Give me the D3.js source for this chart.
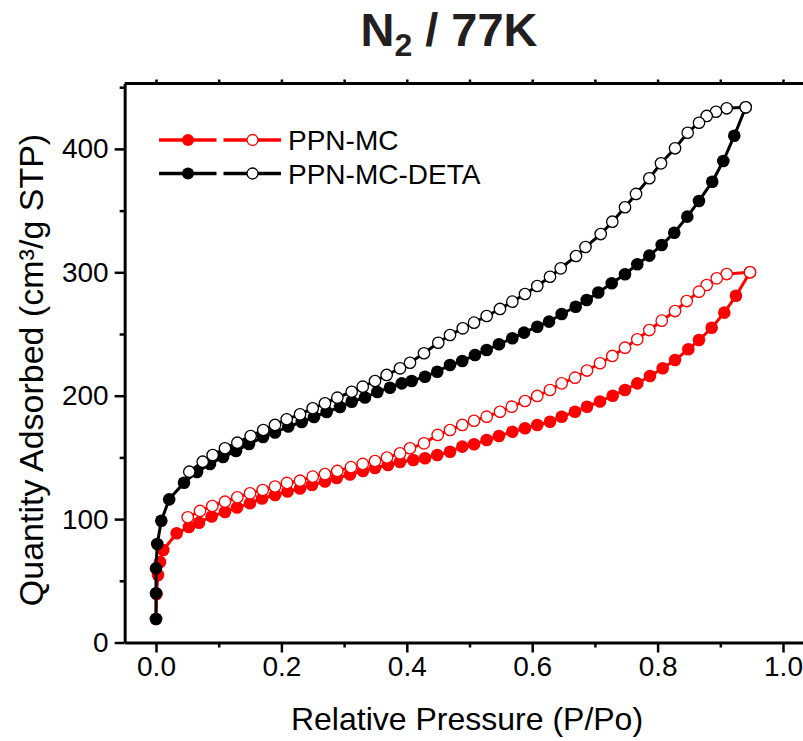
<!DOCTYPE html>
<html><head><meta charset="utf-8">
<script src="https://cdn.jsdelivr.net/npm/d3@7"></script>
<style>html,body{margin:0;padding:0;background:#fff;}svg{display:block;font-family:"Liberation Sans",Arial,sans-serif;}</style>
</head><body>
<svg id="chart" width="803" height="741"></svg>
<script>
// ---------- data ----------
const seriesNames = ["PPN-MC", "PPN-MC-DETA"];
const xTicks = [0, 0.2, 0.4, 0.6, 0.8, 1.0];
const xMinor = [0.1, 0.3, 0.5, 0.7, 0.9];
const yTicks = [0, 100, 200, 300, 400];
const yMinor = [50, 150, 250, 350, 450];

// PPN-MC adsorption (filled)
const mcAdsP = [0,0.0008,0.0032,0.0064,0.0116,0.033,0.0526,0.0686,0.0888,0.11,0.1292,0.1499,0.1691,0.1898,0.2097,0.2297,0.2488,0.2695,0.2882,0.3094,0.3301,0.3493,0.37,0.3892,0.4104,0.429,0.4486,0.4689,0.4885,0.5072,0.5274,0.547,0.5683,0.5885,0.6081,0.6284,0.647,0.6683,0.6874,0.7081,0.7284,0.748,0.7676,0.7879,0.8081,0.8278,0.849,0.866,0.8863,0.9064,0.925,0.9474];
const mcAdsQ = [19.0,39.3,54.7,65.2,75.0,88.5,93.6,97.1,102.1,105.8,109.4,112.8,116.7,119.5,122.4,124.8,127.6,130.5,133.3,136.1,139.0,141.4,143.8,146.3,147.9,149.3,151.9,154.6,158.7,160.6,164.1,167.3,170.8,173.6,176.3,178.9,183.0,187.0,191.1,195.3,200.0,204.6,210.0,216.0,222.2,228.9,237.6,245.1,255.1,267.3,281.0,300.0];
// PPN-MC desorption (open)
const mcDesP = [0.9474,0.9102,0.8943,0.8783,0.866,0.8464,0.8278,0.8066,0.7868,0.7676,0.748,0.7278,0.7081,0.6874,0.6683,0.647,0.6284,0.6081,0.5885,0.5673,0.5486,0.5274,0.5072,0.4885,0.4689,0.4493,0.4274,0.4051,0.3892,0.3684,0.3493,0.3297,0.311,0.2892,0.2695,0.2499,0.2297,0.2089,0.1898,0.1702,0.1499,0.1297,0.11,0.0898,0.0702,0.0506];
const mcDesQ = [300.0,298.6,295.1,289.7,284.3,276.7,268.6,260.8,253.2,245.7,238.9,232.2,226.3,220.4,214.6,210.0,204.6,199.8,195.7,191.1,187.0,183.0,179.7,176.3,172.2,168.2,161.4,157.4,153.3,149.9,147.1,144.7,142.1,139.0,136.5,134.4,131.1,129.3,126.4,123.6,120.9,117.7,114.1,110.6,106.6,101.5];

// PPN-MC-DETA adsorption (filled)
const detaAdsP = [0,0,0,0.002,0.0085,0.021,0.0447,0.0654,0.0861,0.1069,0.1276,0.1483,0.1707,0.1898,0.211,0.2324,0.252,0.2722,0.2935,0.3121,0.3333,0.353,0.3732,0.3919,0.4078,0.429,0.4486,0.4689,0.4885,0.5088,0.5274,0.547,0.5683,0.5869,0.6081,0.6268,0.647,0.6694,0.6869,0.7054,0.7268,0.748,0.7676,0.7868,0.8065,0.8266,0.8474,0.866,0.8872,0.9048,0.9223,0.9405];
const detaAdsQ = [19.0,39.9,60.1,79.8,98.7,116.0,129.5,138.2,144.7,150.3,155.2,160.9,166.5,170.2,175.0,178.7,182.7,186.8,190.8,195.1,198.5,203.0,206.5,210.0,211.9,215.4,219.4,224.9,228.1,233.0,237.0,241.7,246.5,251.1,255.9,260.0,266.2,272.1,277.6,283.6,291.1,298.4,306.5,313.5,322.1,332.1,345.1,357.8,373.4,390.2,410.7,433.7];
// PPN-MC-DETA desorption (open)
const detaDesP = [0.9405,0.9102,0.8931,0.8783,0.866,0.848,0.8278,0.8054,0.7868,0.7656,0.748,0.7278,0.7093,0.685,0.6699,0.6455,0.6284,0.6081,0.5885,0.5683,0.5486,0.5274,0.5072,0.4892,0.4689,0.4502,0.4274,0.4051,0.3892,0.3679,0.3493,0.3297,0.3121,0.2892,0.2695,0.2499,0.2297,0.2085,0.1898,0.1711,0.151,0.1297,0.11,0.0904,0.0745,0.0531];
const detaDesQ = [433.7,432.9,430.1,426.7,421.2,413.1,400.5,388.3,376.2,363.5,352.7,341.0,331.0,320.5,313.2,303.2,296.4,288.9,282.4,276.2,270.3,264.6,259.2,254.6,249.2,242.9,234.4,226.7,222.2,216.8,211.9,207.3,203.2,198.4,193.8,189.8,184.9,180.9,176.3,172.2,167.3,161.9,157.4,151.9,146.5,138.4];

const colors = ["#ff0000", "#000000"];

// ---------- layout ----------
const svg = d3.select("#chart");
const x = d3.scaleLinear().domain([-0.05, 1.05]).range([124.65, 814.35]);
const y = d3.scaleLinear().domain([0, 453]).range([642.5, 83.5]);
const FONT = 28;

// frame: top line
svg.append("line").attr("x1", x(-0.05)).attr("x2", x(1.05)).attr("y1", y(453)).attr("y2", y(453))
  .attr("stroke", "#000").attr("stroke-width", 3);

// axes
function styleAxis(g) {
  g.select(".domain").attr("stroke-width", 3).attr("stroke", "#000");
  g.selectAll(".tick line").attr("stroke-width", 2.5).attr("stroke", "#000");
  g.selectAll("text").attr("font-size", FONT).attr("fill", "#000").attr("font-family", "'Liberation Sans', Arial, sans-serif");
}
const gx = svg.append("g").attr("transform", `translate(0,${y(0)})`)
  .call(d3.axisBottom(x).tickValues(xTicks).tickFormat(d3.format(".1f")).tickSize(10).tickPadding(4).tickSizeOuter(0));
styleAxis(gx);
const gxm = svg.append("g").attr("transform", `translate(0,${y(0)})`)
  .call(d3.axisBottom(x).tickValues(xMinor).tickFormat("").tickSize(5).tickSizeOuter(0));
styleAxis(gxm); gxm.select(".domain").remove();
// top mirrored ticks
const gxt = svg.append("g").attr("transform", `translate(0,${y(453)})`)
  .call(d3.axisTop(x).tickValues(xTicks.concat(xMinor)).tickFormat("").tickSize(4).tickSizeOuter(0));
styleAxis(gxt); gxt.select(".domain").remove();

const gy = svg.append("g").attr("transform", `translate(${x(-0.05)},0)`)
  .call(d3.axisLeft(y).tickValues(yTicks).tickFormat(d3.format("d")).tickSize(10).tickPadding(6).tickSizeOuter(0));
styleAxis(gy);
const gym = svg.append("g").attr("transform", `translate(${x(-0.05)},0)`)
  .call(d3.axisLeft(y).tickValues(yMinor).tickFormat("").tickSize(5).tickSizeOuter(0));
styleAxis(gym); gym.select(".domain").remove();

// axis titles
svg.append("text").attr("x", 467).attr("y", 730).attr("text-anchor", "middle")
  .attr("font-size", 32).text("Relative Pressure (P/Po)");
svg.append("text").attr("transform", "translate(43,370) rotate(-90)").attr("text-anchor", "middle")
  .attr("font-size", 34).text("Quantity Adsorbed (cm³/g STP)");

// title
const title = svg.append("text").attr("x", 449).attr("y", 46).attr("text-anchor", "middle")
  .attr("font-size", 47).attr("font-weight", "bold").attr("fill", "#231f20");
title.append("tspan").text("N");
title.append("tspan").attr("dy", 10).attr("font-size", 32).text("2");
title.append("tspan").attr("dy", -10).text(" / 77K");

// ---------- series ----------
const line = d3.line().x(d => x(d[0])).y(d => y(d[1]));
function zip(a, b) { return a.map((v, i) => [v, b[i]]); }
const series = [
  { ads: zip(mcAdsP, mcAdsQ), des: zip(mcDesP, mcDesQ), color: colors[0] },
  { ads: zip(detaAdsP, detaAdsQ), des: zip(detaDesP, detaDesQ), color: colors[1] }
];
const R = 6.3;
series.forEach(s => {
  const g = svg.append("g");
  g.append("path").datum(s.ads).attr("d", line).attr("fill", "none").attr("stroke", s.color).attr("stroke-width", 3);
  g.selectAll("circle.f").data(s.ads).enter().append("circle").attr("class", "f")
    .attr("cx", d => x(d[0])).attr("cy", d => y(d[1])).attr("r", R).attr("fill", s.color);
  g.append("path").datum(s.des).attr("d", line).attr("fill", "none").attr("stroke", s.color).attr("stroke-width", 3);
  g.selectAll("circle.o").data(s.des).enter().append("circle").attr("class", "o")
    .attr("cx", d => x(d[0])).attr("cy", d => y(d[1])).attr("r", R - 0.6).attr("fill", "#fff")
    .attr("stroke", s.color).attr("stroke-width", 1.3);
});

// ---------- legend ----------
const legend = svg.append("g");
seriesNames.forEach((name, i) => {
  const ly = 140 + i * 33.5;
  const c = colors[i];
  legend.append("line").attr("x1", 159).attr("x2", 216.5).attr("y1", ly).attr("y2", ly).attr("stroke", c).attr("stroke-width", 3.5);
  legend.append("circle").attr("cx", 188).attr("cy", ly).attr("r", 6).attr("fill", c);
  legend.append("line").attr("x1", 223.5).attr("x2", 281).attr("y1", ly).attr("y2", ly).attr("stroke", c).attr("stroke-width", 3.5);
  legend.append("circle").attr("cx", 252.5).attr("cy", ly).attr("r", 5.5).attr("fill", "#fff").attr("stroke", c).attr("stroke-width", 1.3);
  legend.append("text").attr("x", 288).attr("y", ly).attr("dy", "0.36em").attr("font-size", 28).text(name);
});
</script>
</body></html>
